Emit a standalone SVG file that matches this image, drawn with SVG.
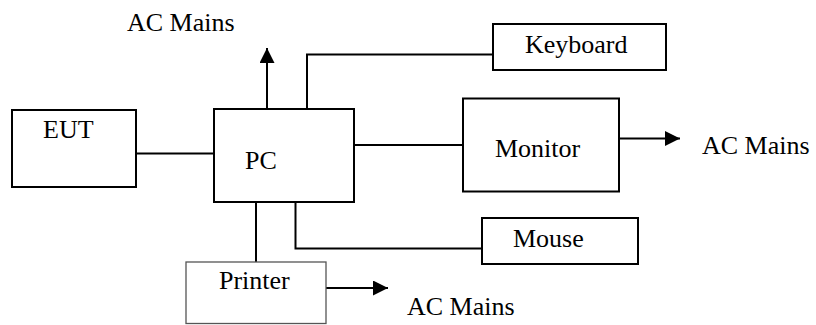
<svg xmlns="http://www.w3.org/2000/svg" width="816" height="325" viewBox="0 0 816 325">
<style>
.box{fill:#fff;stroke:#000;stroke-width:2}
.thin{fill:#fff;stroke:#555;stroke-width:1.3}
.ln{fill:none;stroke:#000;stroke-width:2}
</style>
<defs>
<marker id="ah" viewBox="0 0 10 10" refX="10" refY="5" markerWidth="15" markerHeight="15" markerUnits="userSpaceOnUse" orient="auto">
<path d="M0,0 L10,5 L0,10 Z" fill="#000"/>
</marker>
</defs>
<g id="connectors">
<line class="ln" x1="136" y1="153.5" x2="214" y2="153.5"/>
<line class="ln" x1="267" y1="109" x2="267" y2="48" marker-end="url(#ah)"/>
<polyline class="ln" points="307,109 307,54.5 493,54.5"/>
<line class="ln" x1="354" y1="145" x2="463" y2="145"/>
<line class="ln" x1="619" y1="138.5" x2="680" y2="138.5" marker-end="url(#ah)"/>
<line class="ln" x1="256" y1="202" x2="256" y2="262"/>
<polyline class="ln" points="295.5,202 295.5,248.5 482,248.5"/>
<line class="ln" x1="326" y1="288" x2="388" y2="288" stroke-width="1.5" marker-end="url(#ah)"/>
</g>
<g font-family="Liberation Serif, serif" font-size="26" fill="#000">
<g id="eut"><rect class="box" x="12" y="110" width="124" height="77"/><text x="43" y="138">EUT</text></g>
<g id="pc"><rect class="box" x="214" y="109" width="140" height="93"/><text x="245" y="169">PC</text></g>
<g id="keyboard"><rect class="box" x="493" y="24" width="173" height="46"/><text x="525" y="53">Keyboard</text></g>
<g id="monitor"><rect class="box" x="463" y="98.5" width="156" height="93"/><text x="495" y="157">Monitor</text></g>
<g id="mouse"><rect class="box" x="482" y="218" width="156" height="46"/><text x="513" y="247">Mouse</text></g>
<g id="printer"><rect class="thin" x="186" y="262" width="140" height="61.5"/><text x="219" y="289">Printer</text></g>
<g id="labels">
<text x="127" y="31">AC Mains</text>
<text x="702" y="154">AC Mains</text>
<text x="407" y="315">AC Mains</text>
</g>
</g>
</svg>
